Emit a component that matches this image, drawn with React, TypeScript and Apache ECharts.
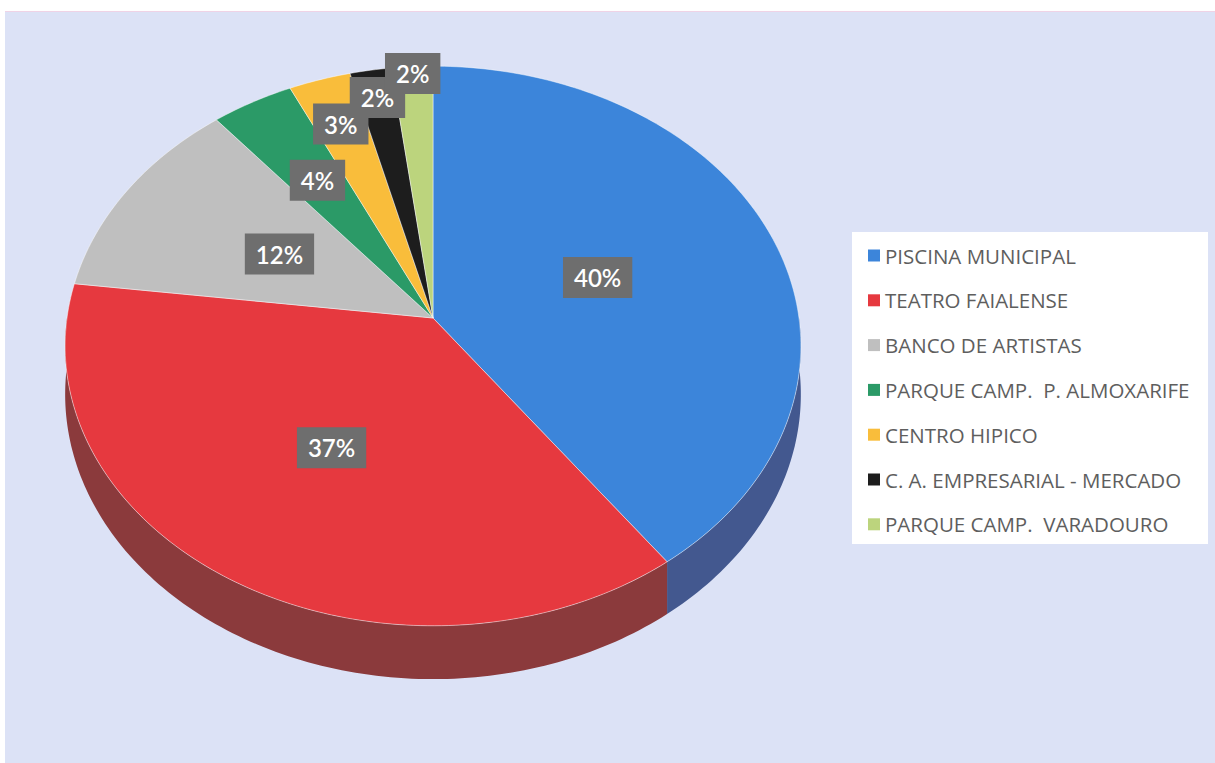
import React, { useEffect, useRef } from "react";
import * as echarts from "echarts";

const CATEGORIES = [
  "PISCINA MUNICIPAL",
  "TEATRO FAIALENSE",
  "BANCO DE ARTISTAS",
  "PARQUE CAMP.  P. ALMOXARIFE",
  "CENTRO HIPICO",
  "C. A. EMPRESARIAL - MERCADO",
  "PARQUE CAMP.  VARADOURO",
];
const SHARES = [40, 37, 12, 4, 3, 2, 2];

const TOP_COLORS = ["#3c85da", "#e6393f", "#bfbfbf", "#2b9a67", "#f9bd3b", "#1d1d1d", "#bcd47d"];
const SIDE_COLORS = ["#43588f", "#8b3a3c", "#8a8a8a", "#1f6e4a", "#b68a2a", "#111111", "#879a5a"];
// radial position (fraction of radius) of each data label
const LABEL_RADIUS = [0.48, 0.52, 0.49, 0.62, 0.8, 0.88, 0.97];

const CX = 433;
const CY = 318;
const RX = 366;
const RY = 277;
const PERSP = 0.1;
const DEPTH = 48;

function project(theta: number, r: number): [number, number, number] {
  const u = r * Math.sin(theta);
  const v = r * Math.cos(theta);
  const s = 1 / (1 + PERSP * v);
  return [CX + RX * u * s, CY - RY * v * s, s];
}

function arcPoints(a: number, b: number): [number, number, number][] {
  const n = Math.max(2, Math.ceil(((b - a) * 180) / Math.PI));
  const pts: [number, number, number][] = [];
  for (let i = 0; i <= n; i++) pts.push(project(a + ((b - a) * i) / n, 1));
  return pts;
}

export default function App() {
  const ref = useRef<HTMLDivElement>(null);
  useEffect(() => {
    if (!ref.current) return;
    const chart = echarts.init(ref.current, undefined, { renderer: "svg" });
    const total = SHARES.reduce((a, b) => a + b, 0);
    const starts: number[] = [];
    let acc = 0;
    SHARES.forEach((v) => {
      starts.push(acc);
      acc += v;
    });

    const renderItem = (params: any, api: any) => {
      const i = params.dataIndex;
      const val = api.value(0);
      const a = (starts[i] / total) * Math.PI * 2;
      const b = ((starts[i] + val) / total) * Math.PI * 2;
      const children: any[] = [];
      // side wall (front half only)
      const sa = Math.max(a, Math.PI / 2);
      const sb = Math.min(b, (Math.PI * 3) / 2);
      if (sb > sa) {
        const rim = arcPoints(sa, sb);
        const bottom = rim.map((p) => [p[0], p[1] + DEPTH * p[2]]).reverse();
        children.push({
          type: "polygon",
          z2: 1,
          shape: { points: [...rim.map((p) => [p[0], p[1]]), ...bottom] },
          style: { fill: SIDE_COLORS[i] },
        });
      }
      const top = arcPoints(a, b).map((p) => [p[0], p[1]]);
      children.push({
        type: "polygon",
        z2: 10,
        shape: { points: [[CX, CY], ...top] },
        style: {
          fill: TOP_COLORS[i],
          stroke: "rgba(255,255,255,0.45)",
          lineWidth: 1,
          lineJoin: "round",
        },
      });
      const mid = (a + b) / 2;
      const lp = project(mid, LABEL_RADIUS[i]);
      children.push({
        type: "text",
        z2: 100,
        x: lp[0],
        y: lp[1],
        style: {
          text: Math.round((val / total) * 100) + "%",
          fill: "#ffffff",
          fontFamily: "Lato",
          fontSize: 24,
          fontWeight: 600,
          align: "center",
          verticalAlign: "middle",
          backgroundColor: "#6e6e6e",
          padding: [9, 11, 8, 11],
        },
      });
      return { type: "group", children };
    };

    chart.setOption({
      animation: false,
      backgroundColor: "#ffffff",
      graphic: [
        {
          type: "rect",
          z: -10,
          shape: { x: 5, y: 11, width: 1215, height: 760 },
          style: { fill: "#dce2f6" },
        },
        {
          type: "line",
          z: -9,
          shape: { x1: 5, y1: 11.5, x2: 1215, y2: 11.5 },
          style: { stroke: "#efd3e6", lineWidth: 1 },
        },
        {
          type: "rect",
          z: -5,
          shape: { x: 852, y: 232, width: 356, height: 312 },
          style: { fill: "#ffffff" },
        },
      ],
      legend: {
        orient: "vertical",
        left: 868,
        top: 245,
        padding: 0,
        itemGap: 23.8,
        itemWidth: 12,
        itemHeight: 12,
        icon: "rect",
        selectedMode: false,
        data: CATEGORIES,
        textStyle: {
          color: "#5e5e5e",
          fontFamily: "Open Sans",
          fontSize: 20.5,
          lineHeight: 20,
        },
      },
      series: [
        {
          type: "custom",
          name: "Custos",
          coordinateSystem: "none",
          renderItem,
          data: SHARES.map((v, i) => ({ name: CATEGORIES[i], value: [v] })),
          silent: true,
        },
        {
          type: "pie",
          name: "legend",
          radius: [0, 0],
          center: [CX, CY],
          silent: true,
          label: { show: false },
          labelLine: { show: false },
          data: SHARES.map((v, i) => ({
            name: CATEGORIES[i],
            value: v,
            itemStyle: { color: TOP_COLORS[i] },
          })),
        },
      ],
    });
    return () => chart.dispose();
  }, []);
  return (
    <div
      ref={ref}
      style={{ position: "fixed", left: 0, top: 0, width: 1215, height: 763 }}
    />
  );
}
